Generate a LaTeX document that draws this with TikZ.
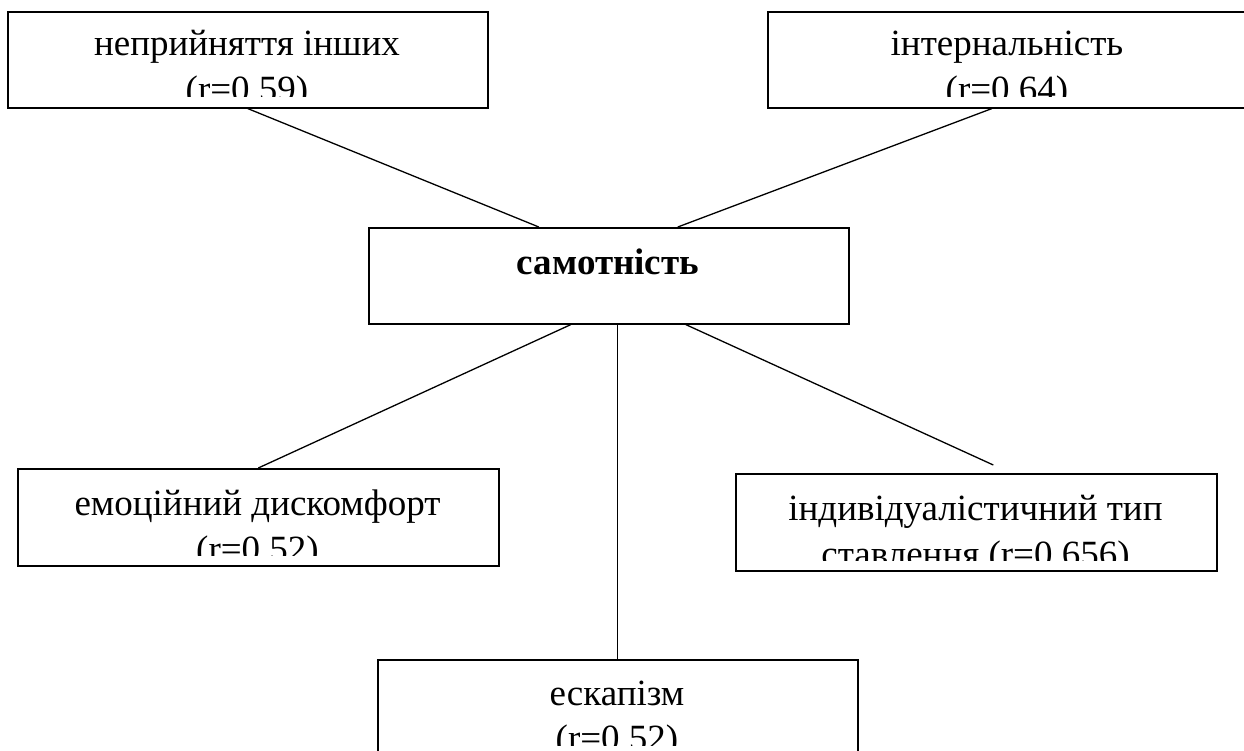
\documentclass[tikz,border=0pt]{standalone}
\usepackage{fontspec}
\setmainfont{Liberation Serif}
\begin{document}
\begin{tikzpicture}[x=1pt,y=-1pt,
  box/.style={draw,line width=1.6pt,inner sep=0pt,anchor=north west},
  conn/.style={line width=1.3pt},
  lbl/.style={anchor=base,inner sep=0pt,font=\fontsize{37}{46}\selectfont},
  blbl/.style={lbl,font=\fontsize{37}{46}\selectfont\bfseries}]
\useasboundingbox (0,0) rectangle (1244,751);
\clip (0,0) rectangle (1244,751);
% boxes
\node[box,minimum width=480pt,minimum height=96pt] (tl) at (7,11) {};
\node[box,minimum width=480pt,minimum height=96pt] (tr) at (767,11) {};
\node[box,minimum width=480pt,minimum height=96pt] (c) at (368,227) {};
\node[box,minimum width=481pt,minimum height=97pt] (bl) at (17,468) {};
\node[box,minimum width=481pt,minimum height=97pt] (br) at (735,473) {};
\node[box,minimum width=480pt,minimum height=130pt] (b) at (377,659) {};
% texts
\begin{scope}
\clip (7,11) rectangle (487,97);
\node[lbl] (tl1) at (247,56) {неприйняття інших};
\node[lbl] (tl2) at (247,102) {(r=0,59)};
\end{scope}
\begin{scope}
\clip (767,11) rectangle (1247,97);
\node[lbl] (tr1) at (1007,56) {інтернальність};
\node[lbl] (tr2) at (1007,102) {(r=0,64)};
\end{scope}
\node[blbl] (c1) at (608,275) {самотність};
\begin{scope}
\clip (17,468) rectangle (498,555);
\node[lbl] (bl1) at (257.5,515) {емоційний дискомфорт};
\node[lbl] (bl2) at (257.5,561) {(r=0,52)};
\end{scope}
\begin{scope}
\clip (735,473) rectangle (1216,560);
\node[lbl] (br1) at (975.5,520) {індивідуалістичний тип};
\node[lbl] (br2) at (975.5,566) {ставлення (r=0,656)};
\end{scope}
\begin{scope}
\clip (377,659) rectangle (857,745);
\node[lbl] (b1) at (617,705) {ескапізм};
\node[lbl] (b2) at (617,750) {(r=0,52)};
\end{scope}
% connectors
\coordinate (brend) at ([xshift=17pt,yshift=8pt]br.north);
\draw[conn] (tl.south) -- ([xshift=-70pt]c.north);
\draw[conn] ([xshift=-16pt]tr.south) -- ([xshift=69pt]c.north);
\draw[conn] ([xshift=-38pt]c.south) -- (bl.north);
\draw[conn] (b.north |- c.south) -- (b.north);
\draw[conn] ([xshift=77pt]c.south) -- (brend);
\end{tikzpicture}
\end{document}
